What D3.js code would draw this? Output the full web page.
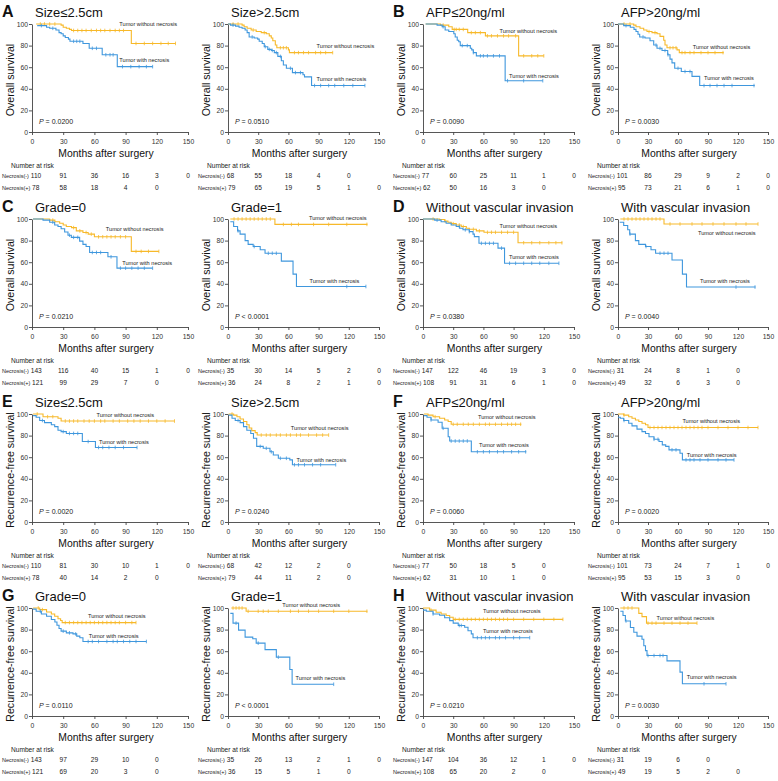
<!DOCTYPE html>
<html>
<head>
<meta charset="utf-8">
<script src="https://cdn.jsdelivr.net/npm/d3@7"></script>
<style>
  body { margin: 0; background: #fff; }
  svg { display: block; font-family: "Liberation Sans", Arial, Helvetica, sans-serif; }
</style>
</head>
<body>
<svg id="chart" width="778" height="781"></svg>
<script>
// panel titles, row by row (left-right pairs)
var titles = ["Size\u22642.5cm", "Size>2.5cm", "AFP\u226420ng/ml", "AFP>20ng/ml",
  "Grade=0", "Grade=1", "Without vascular invasion", "With vascular invasion",
  "Size\u22642.5cm", "Size>2.5cm", "AFP\u226420ng/ml", "AFP>20ng/ml",
  "Grade=0", "Grade=1", "Without vascular invasion", "With vascular invasion"];
var letters = ["A", "B", "C", "D", "E", "F", "G", "H"];
var yTitles = ["Overall survival", "Overall survival", "Recurrence-free survival", "Recurrence-free survival"];
var pValues = ["= 0.0200", "= 0.0510", "= 0.0090", "= 0.0030", "= 0.0210", "< 0.0001", "= 0.0380", "= 0.0040",
  "= 0.0020", "= 0.0240", "= 0.0060", "= 0.0020", "= 0.0110", "< 0.0001", "= 0.0210", "= 0.0030"];
var xTicks = [0, 30, 60, 90, 120, 150];
var yTicks = [0, 20, 40, 60, 80, 100];

// number at risk
var riskNeg = [[110,91,36,16,3,0],[68,55,18,4,0],[77,60,25,11,1,0],[101,86,29,9,2,0],
  [143,116,40,15,1,0],[35,30,14,5,2,0],[147,122,46,19,3,0],[31,24,8,1,0],
  [110,81,30,10,1,0],[68,42,12,2,0],[77,50,18,5,0],[101,73,24,7,1,0],
  [143,97,29,10,0],[35,26,13,2,1,0],[147,104,36,12,1,0],[31,19,6,0]];
var riskPos = [[78,58,18,4,0],[79,65,19,5,1,0],[62,50,16,3,0],[95,73,21,6,1,0],
  [121,99,29,7,0],[36,24,8,2,1,0],[108,91,31,6,1,0],[49,32,6,3,0],
  [78,40,14,2,0],[79,44,11,2,0],[62,31,10,1,0],[95,53,15,3,0],
  [121,69,20,3,0],[36,15,5,1,0],[108,65,20,2,0],[49,19,5,2,0]];

// KM steps [month, survival %] - tumor without necrosis
var noNecrosis = [
  [[4,100],[28,99],[30,97],[33,96],[36,95],[38,94],[95.5,82],[138,82]],
  [[0,100],[14,99],[16,97.5],[19,96],[23,94.5],[28,93],[33,92],[38,91],[41,89],[43,87],[44.5,84.5],[47,80.5],[48.5,78],[60,76],[61,73.5],[104,73.5]],
  [[2.6,100],[17.4,99],[25.6,97.5],[29,95],[44.4,92],[62,89],[95,70.5],[120,70.5]],
  [[0,100],[15.7,99],[18,97.5],[22,96],[25.7,94.5],[29,93],[34,92],[39,91],[42,88.5],[45.7,85],[47,80.5],[49,78],[59,76],[61.3,73.5],[105.7,73.5]],
  [[1,100],[17,99],[22,97.5],[26.6,96],[30,94.5],[33,93],[38,92],[42.6,89],[49,87.5],[54,86],[60,83.5],[95.5,70],[122,70]],
  [[2.3,100],[46.6,95],[138.5,95]],
  [[0,100],[16.5,99.5],[21.5,98],[24.8,97],[28,95.7],[33,94.5],[38,93],[43,91.4],[46,90.5],[53,89],[60.6,87.7],[94.4,78],[138.4,78]],
  [[2.3,100],[46,95.4],[140,95.4]],
  [[1,100],[10.6,97.5],[25,96],[28,93.5],[137,93.5]],
  [[0.7,100],[5.6,99],[8.9,97.5],[12,95.4],[15.4,93],[18.7,90],[21,87],[23.6,84.6],[27,82.8],[29,80.5],[100,80.5]],
  [[1,100],[5,99],[10,97.5],[16.5,96],[21.5,94.5],[25,93],[28,90.5],[97.7,90.5]],
  [[0,100],[5.7,99],[10.7,97.5],[14,96],[17.4,94.5],[20.8,93],[24,91.4],[27.5,90],[30,87.5],[140,87.5]],
  [[1,100],[7.4,98.5],[14,96.3],[18.6,94.5],[21.8,92.4],[25,90],[27.5,88.4],[29,86.5],[100,86.5]],
  [[3.3,100],[18,97],[138.5,97]],
  [[0,100],[6.6,98],[13,96],[18,94.5],[23,93],[26.5,91.4],[30,89.5],[139,89.5]],
  [[2.3,100],[20.8,95],[24,92],[28.5,86],[79,86]]
];
// KM steps - tumor with necrosis
var withNecrosis = [
  [[5,98.5],[14,97],[17,96],[23,94.5],[26,92],[28,91],[30,89],[32,87.5],[35,86],[36.5,84],[49,82],[55,77.5],[67.5,71.5],[82,60.5],[116,60.5]],
  [[0,100],[2.5,99],[7.5,98],[11,97],[14,96],[17,94.5],[19,92],[21,88],[26,87],[29.5,86],[31,84],[34,82],[36,79],[39.5,76.5],[43,75.5],[46,73.5],[49.5,70],[53,66],[55,62],[58,59],[64,55],[74.5,53],[76,51],[83,43],[136,43]],
  [[2.6,100],[14,99],[19,97.5],[22,94.5],[25.6,93],[30.6,91],[32,88],[34,85],[35.5,83.5],[37,80],[47,77.5],[48.4,76],[50,73.5],[53,70.5],[81.6,47.5],[119,47.5]],
  [[0,100],[5.7,98.5],[12.3,97],[16,95],[18,93],[20,90.5],[21.7,88],[27,87],[32,84.5],[35.7,80.5],[39,77.5],[44,75.5],[49.7,71.5],[52,67.5],[54,64],[56.7,59],[63.3,56],[74,51.5],[81.7,43],[136.7,43]],
  [[1,100],[10.6,99],[17,97],[21.8,94.5],[25,93],[28,91],[31.4,88],[34.6,85],[37.8,83],[45.8,79.5],[49,76.5],[52,74.5],[55.4,69],[73,65],[81.7,54.5],[116,54.5]],
  [[2.3,97.5],[5.6,93],[9.5,89],[12,86],[17,80],[20,76.5],[25,74.5],[32,71.5],[36.8,68.3],[53,61],[64.6,49],[68,37.5],[137,37.5]],
  [[0,100],[11.6,99],[18,97.5],[23,96],[28,94.5],[33,93],[36.4,91.4],[39.7,90],[46,88.3],[49.7,86],[51,83.7],[55.6,77.5],[74.5,73],[81,59],[135,59]],
  [[1.7,97],[5.7,94],[9.7,90],[11.7,86],[17.4,80],[20.8,76.5],[27.5,74.5],[33,71.5],[37.6,68.3],[54,62],[64.4,49],[68.5,37],[137.5,37]],
  [[1,98.5],[4,97],[7.4,94],[12,92],[18.6,90],[21.8,88.3],[25,85],[28,83.7],[33,82],[48.4,74.5],[61,69],[101,69]],
  [[0.7,99],[4,96],[7.2,94],[12,92],[15.4,88.3],[18.7,85],[22.6,82],[25.3,77.5],[28.5,70],[35,68.3],[41.7,65],[45,62],[50,59],[61.4,57.5],[64,53],[107,53]],
  [[1,98.5],[4,97],[8,94.5],[15,92.3],[19,86.8],[25,79],[26.5,75],[48,65],[102.6,65]],
  [[0,97],[2.3,96],[5.7,94],[10.7,91.4],[14,89],[19,86],[24,83.7],[27.5,82],[31,79],[36,76.6],[41,74.5],[44.3,71.4],[47.7,70],[51,66.8],[62,63.7],[64.4,57.5],[116,57.5]],
  [[1,99],[4,97],[9,94.5],[14,92.4],[18.6,89.3],[22,87],[24,84],[26,81],[28,78.6],[33,77],[39.4,76],[43,74],[46,72.5],[49,69],[110,69]],
  [[2.3,95],[5,86],[10.5,79.5],[17,73],[24.6,71.5],[28,67.5],[36.8,61.5],[48,54.5],[61.4,43],[63.7,29.4],[105,29.4]],
  [[0,98],[3.3,97],[10,94.5],[16.5,93.3],[21.5,91],[26.5,88.3],[30,86],[35,83.8],[41.4,82.2],[44.7,79],[48,76],[49.7,72.5],[106,72.5]],
  [[2.3,97],[5,93],[7.4,88],[12.4,82],[15.8,77.5],[19,74],[24,71],[25.8,65],[27.5,60.5],[29,56],[49,51],[62,40.6],[64.4,29.8],[108,29.8]]
];

// censor times (months)
var censorNo = [
  [8,12,17,22,40,44,48,52,57,62,66,70,75,80,84,88,100,108,116,124,131,138],
  [5,10,25,36,52,55,58,66,70,75,80,87,92,97,104],
  [20,31,33,36,40,48,52,57,64,68,74,80,85,92,100,108,114,120],
  [6,12,31,37,52,55,58,64,67,72,76,83,90,97,105],
  [20,40,46,52,57,64,68,72,76,80,85,90,100,105,112,122],
  [6,10,14,18,22,26,30,34,38,42,55,63,70,85,100,118,138],
  [10,22,30,36,40,50,56,64,68,72,78,84,90,100,108,116,125,132,138],
  [6,10,14,18,22,26,30,34,38,42,52,62,74,84,95,106,118,128,140],
  [5,15,20,32,36,40,44,50,55,60,66,70,78,84,92,98,104,112,120,128,137],
  [4,33,38,42,48,52,58,62,68,72,80,88,94,100],
  [12,30,34,40,45,50,56,62,66,72,78,84,88,92,97],
  [6,32,36,40,44,48,52,56,60,64,68,72,76,80,84,90,100,110,120,130,140],
  [6,10,32,36,40,44,48,52,56,60,64,68,72,76,80,84,90,96,100],
  [5,8,11,14,20,30,35,40,50,62,70,80,90,105,120,138],
  [8,32,36,40,44,48,52,56,60,64,68,72,76,80,84,90,100,110,120,130,139],
  [6,10,14,30,34,38,46,54,62,70,79]
];
var censorWith = [
  [9,20,40,43,46,58,62,71,75,78,87,95,103,110,116],
  [5,24,37,41,44,48,52,62,67,72,86,92,100,106,115,124,136],
  [20,39,44,50,57,60,64,70,76,84,100,119],
  [8,25,38,42,47,50,60,67,72,86,92,99,106,114,136],
  [20,36,40,44,58,62,66,76,85,90,96,102,108,116],
  [10,26,40,44,48,118,137],
  [14,36,42,46,58,62,66,70,78,86,92,100,108,116,125,135],
  [12,28,42,46,50,118,137],
  [10,30,36,40,44,54,64,68,74,80,88,101],
  [10,32,38,43,52,58,66,70,76,84,92,107],
  [8,20,28,32,36,40,44,54,60,66,74,80,88,95,102],
  [6,36,40,54,58,68,72,76,82,90,100,108,116],
  [8,30,36,42,54,58,64,72,78,82,88,94,100,110],
  [8,30,50,105],
  [10,36,38,54,58,62,66,72,76,82,90,96,106],
  [8,30,36,42,45,86,108]
];

// where the curve names sit, in [month, %] units
var labelNoAt = [[84,100],[88,79.6],[76,93.5],[74.7,79],[71,90.5],[80.4,101],[76,93.5],[80,87.4],
  [62,99],[62.4,86.8],[54.6,97],[64.4,93.5],[53.8,92.5],[54,102.5],[59.6,97],[38.6,90.8]];
var labelWithAt = [[84,66.8],[88,49],[85.5,52],[86,49.8],[86.8,59],[81,42.8],[85.4,65],[82,43],
  [64.4,74.5],[68,57.5],[55.6,70.8],[68.8,62],[54.5,74],[67,35],[59.6,79],[68.8,35.7]];

var colX = [32, 228, 423, 618], colW = [156, 151, 151, 150];
var rowY = [24, 219, 414, 608], plotH = 108;
var yellow = "#F7B92A", blue = "#3F97DD", axisCol = "#444";

var svg = d3.select("#chart");

function stepValue(steps, t) {
  var v = steps[0][1];
  steps.forEach(function (p) { if (p[0] <= t) v = p[1]; });
  return v;
}

titles.forEach(function (title, i) {
  var row = Math.floor(i / 4), col = i % 4;
  var x0 = colX[col], y0 = rowY[row], w = colW[col];
  var x = d3.scaleLinear().domain([0, 150]).range([x0, x0 + w]);
  var y = d3.scaleLinear().domain([0, 100]).range([y0 + plotH, y0]);
  var g = svg.append("g");

  // axes
  var xa = g.append("g").attr("transform", "translate(0," + (y0 + plotH) + ")")
    .call(d3.axisBottom(x).tickValues(xTicks).tickSize(3).tickSizeOuter(0).tickPadding(4));
  var ya = g.append("g").attr("transform", "translate(" + x0 + ",0)")
    .call(d3.axisLeft(y).tickValues(yTicks).tickSize(3).tickSizeOuter(0).tickPadding(1));
  [xa, ya].forEach(function (a) {
    a.attr("font-family", null).attr("font-size", null);
    a.selectAll("path, line").attr("stroke", axisCol).attr("stroke-width", 0.9);
    a.selectAll("text").attr("fill", "#333").style("font-size", "6.8px");
  });

  // title + letter
  g.append("text").attr("x", x0 + 3).attr("y", y0 - 7)
    .style("font-size", "13px").attr("fill", "#111").text(title);
  if (col % 2 == 0)
    g.append("text").attr("x", x0 - 30).attr("y", y0 - 7)
      .style("font-size", "16px").style("font-weight", "bold").attr("fill", "#111")
      .text(letters[row * 2 + col / 2]);

  // axis titles
  g.append("text").attr("transform", "translate(" + (x0 - 22) + "," + (y0 + plotH / 2 + 2) + ") rotate(-90)")
    .attr("text-anchor", "middle").attr("dy", "0.35em")
    .style("font-size", "10.6px").attr("fill", "#111").text(yTitles[row]);
  g.append("text").attr("x", x0 + w / 2 - 4).attr("y", y0 + plotH + 25)
    .attr("text-anchor", "middle").style("font-size", "10.4px").attr("fill", "#111")
    .text("Months after surgery");

  // curves
  var line = d3.line().x(function (d) { return x(d[0]); }).y(function (d) { return y(d[1]); })
    .curve(d3.curveStepAfter);
  [[noNecrosis[i], censorNo[i], yellow], [withNecrosis[i], censorWith[i], blue]].forEach(function (s) {
    g.append("path").attr("d", line(s[0])).attr("fill", "none")
      .attr("stroke", s[2]).attr("stroke-width", 1.1);
    g.selectAll(null).data(s[1]).enter().append("line")
      .attr("x1", function (t) { return x(t); }).attr("x2", function (t) { return x(t); })
      .attr("y1", function (t) { return y(stepValue(s[0], t)) - 1.8; })
      .attr("y2", function (t) { return y(stepValue(s[0], t)) + 1.8; })
      .attr("stroke", s[2]).attr("stroke-width", 0.8);
  });

  // curve names
  g.append("text").attr("x", x(labelNoAt[i][0])).attr("y", y(labelNoAt[i][1])).attr("dy", "0.35em")
    .style("font-size", "5.6px").attr("fill", "#222").text("Tumor without necrosis");
  g.append("text").attr("x", x(labelWithAt[i][0])).attr("y", y(labelWithAt[i][1])).attr("dy", "0.35em")
    .style("font-size", "5.6px").attr("fill", "#222").text("Tumor with necrosis");

  // p value
  var pt = g.append("text").attr("x", x0 + 7).attr("y", y(10) + 2.5)
    .style("font-size", "7px").attr("fill", "#222");
  pt.append("tspan").style("font-style", "italic").text("P");
  pt.append("tspan").text(" " + pValues[i]);

  // number at risk table
  var yb = y0 + plotH;
  g.append("text").attr("x", x0 - 21).attr("y", yb + 35.5)
    .style("font-size", "6.6px").attr("fill", "#222").text("Number at risk");
  [["Necrosis(-)", riskNeg[i], yb + 46], ["Necrosis(+)", riskPos[i], yb + 58]].forEach(function (r) {
    var t = g.append("text").attr("x", x0 - 30).attr("y", r[2]).attr("fill", "#222");
    t.append("tspan").style("font-size", "5.5px").text(r[0]);
    t.append("tspan").style("font-size", "6.6px").text(" " + r[1][0]);
    r[1].slice(1).forEach(function (v, k) {
      g.append("text").attr("x", x(xTicks[k + 1])).attr("y", r[2]).attr("text-anchor", "middle")
        .style("font-size", "6.6px").attr("fill", "#222").text(v);
    });
  });
});
</script>
</body>
</html>
